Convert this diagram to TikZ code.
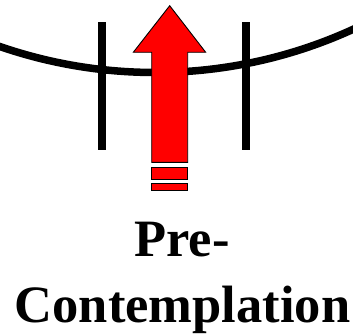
\documentclass[tikz,border=0pt]{standalone}
\usepackage{fontspec}
\setmainfont{Liberation Serif}
\begin{document}
\begin{tikzpicture}[x=1pt,y=-1pt,
  wire/.style={line width=7.5pt},
  post/.style={line width=8pt},
  redpart/.style={fill=red,draw=black,line width=0.9pt,line join=miter},
  label/.style={font=\fontsize{52.5}{60}\selectfont\bfseries,inner sep=0pt,anchor=base}]
\useasboundingbox (0,0) rectangle (353,334);
\clip (0,0) rectangle (353,334);
% wire (arc of a large circle)
\coordinate (cc) at (155,-403.5);
\draw[wire] (cc) ++(110:476) arc[start angle=110,end angle=65,radius=476];
% posts
\coordinate (l1) at (101.7,22.3); \coordinate (l2) at (101.7,150);
\coordinate (r1) at (245.7,22.3); \coordinate (r2) at (245.7,150);
\draw[post] (l1) -- (l2);
\draw[post] (r1) -- (r2);
% arrow
\draw[redpart] (169.7,5.7) -- (205.7,52.3) -- (187.7,52.3) -- (187.7,162.3)
  -- (151.7,162.3) -- (151.7,52.3) -- (133.3,52.3) -- cycle;
\draw[redpart] (151.7,167) rectangle (187.7,179);
\draw[redpart] (151.7,183.7) rectangle (187.7,190.3);
% text
\node[label] (pre) at (182,256.7) {Pre-};
\node[label] (con) at (182.5,322) {Contemplation};
\end{tikzpicture}
\end{document}
